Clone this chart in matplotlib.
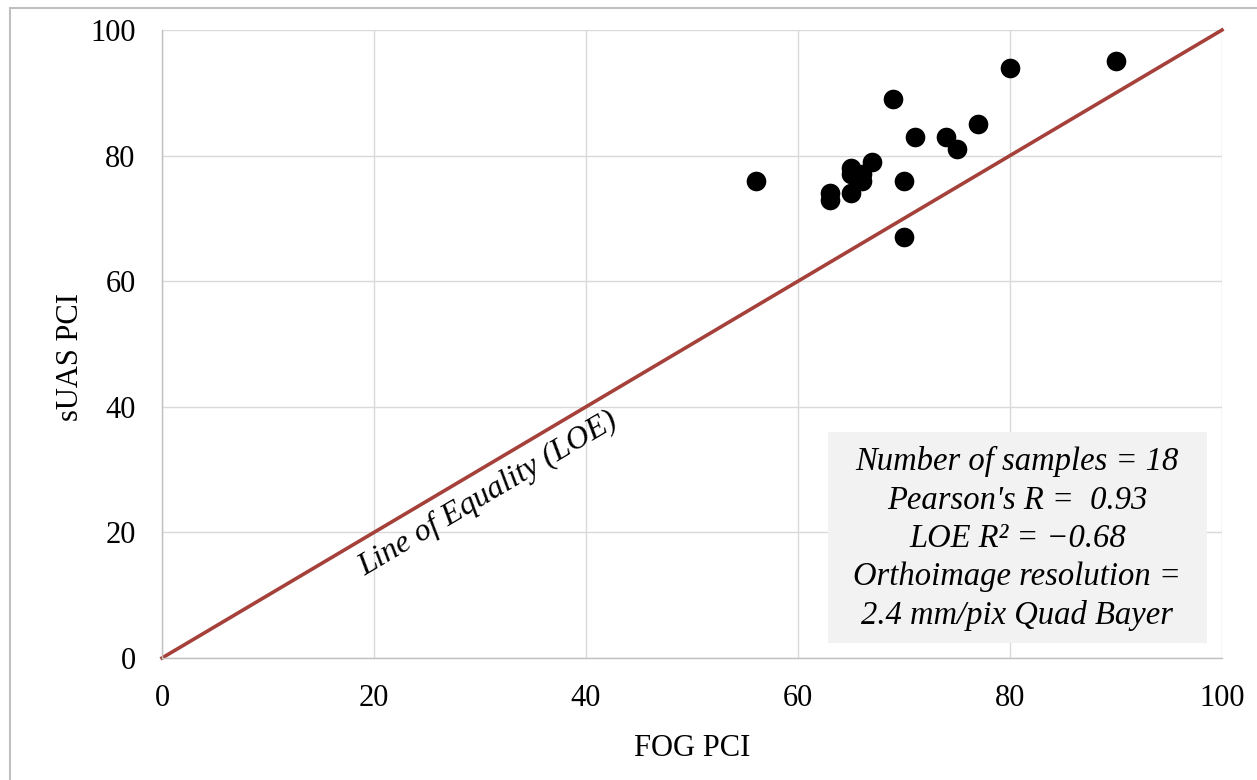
import matplotlib
matplotlib.use("Agg")
import matplotlib.pyplot as plt
from matplotlib.patches import Rectangle

fog_pci = [56, 63, 63, 65, 65, 65, 66, 66, 67, 69, 70, 70, 71, 74, 75, 77, 80, 90]
suas_pci = [76, 74, 73, 78, 77, 74, 77, 76, 79, 89, 76, 67, 83, 83, 81, 85, 94, 95]
loe = [0, 100]
ticks = [0, 20, 40, 60, 80, 100]

plt.rcParams['font.family'] = ['Liberation Serif', 'DejaVu Serif']

W, H = 1257, 780
fig = plt.figure(figsize=(W / 100, H / 100), dpi=100)
ax = fig.add_axes([162 / W, 1 - 658 / H, (1222 - 162) / W, (658 - 30) / H])

# outer frame
fig.patches.append(Rectangle((10 / W, -0.05), 1.2, 1 - 8 / H + 0.05, transform=fig.transFigure,
                             fill=False, edgecolor='#bfbfbf', linewidth=1.5, zorder=0))

ax.set_xlim(0, 100)
ax.set_ylim(0, 100)
ax.set_xticks(ticks)
ax.set_yticks(ticks)
ax.grid(True, color='#d9d9d9', linewidth=1.0)
ax.set_axisbelow(True)
for s in ['top', 'right']:
    ax.spines[s].set_visible(False)
for s in ['left', 'bottom']:
    ax.spines[s].set_color('#bfbfbf')
    ax.spines[s].set_linewidth(1.0)
ax.tick_params(length=0, labelsize=22, colors='black', pad=19)

ax.plot(loe, loe, color='#A5413A', linewidth=2.6, zorder=2, clip_on=False)
ax.scatter(fog_pci, suas_pci, s=200, color='black', zorder=3, clip_on=False, linewidths=0)

ax.annotate('Line of Equality (LOE)', xy=(29.6, 29.6), xytext=(3.5, -6.5),
            textcoords='offset points', rotation=30.65, rotation_mode='anchor',
            ha='center', va='top', fontsize=23, style='italic')

# info box
ax.add_patch(Rectangle((62.8, 2.4), 35.8, 33.6, facecolor='#f2f2f2', edgecolor='none', zorder=1))
box_text = ('Number of samples = 18\n'
            "Pearson's R =  0.93\n"
            'LOE R² = −0.68\n'
            'Orthoimage resolution =\n'
            '2.4 mm/pix Quad Bayer')
ax.text(80.7, 19.0, box_text, ha='center', va='center', fontsize=23.5,
        style='italic', linespacing=1.33, zorder=4)

ax.set_xlabel('FOG PCI', fontsize=22)
ax.set_ylabel('sUAS PCI', fontsize=22)
ax.xaxis.set_label_coords(0.5, (658 - 748) / 628)
ax.xaxis.label.set_va('center')
ax.yaxis.set_label_coords((70 - 162) / 1060, 0.48)
ax.yaxis.label.set_va('center')

fig.savefig('out.png', dpi=100)
